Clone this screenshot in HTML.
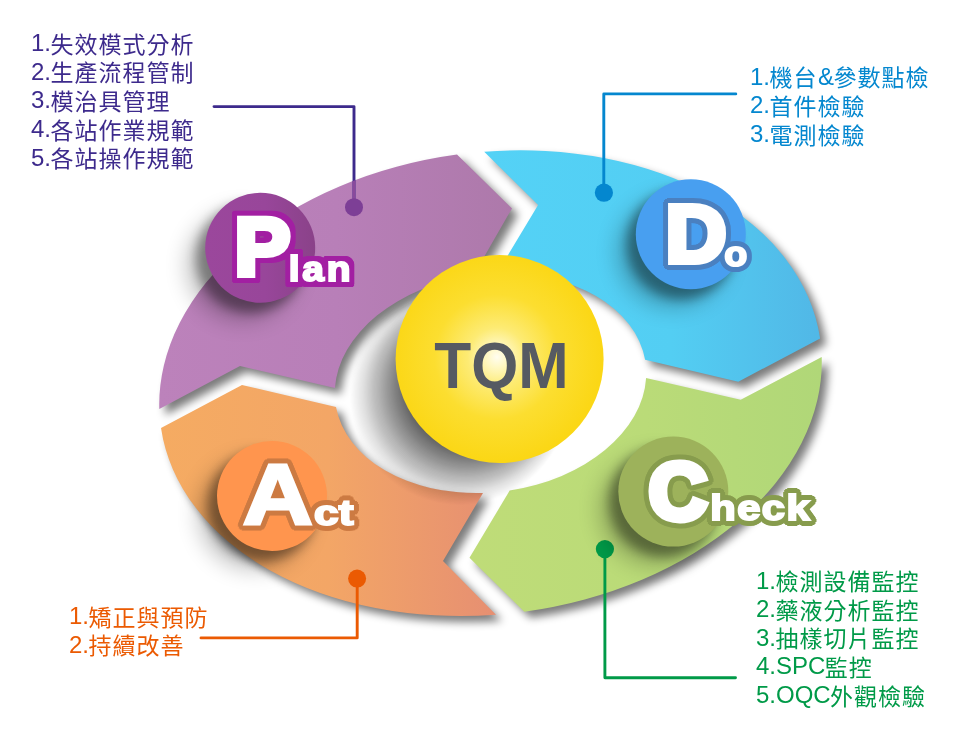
<!DOCTYPE html>
<html lang="zh-Hant">
<head>
<meta charset="utf-8">
<title>TQM PDCA</title>
<style>
html,body{margin:0;padding:0;background:#fff;}
body{width:974px;height:739px;overflow:hidden;position:relative;font-family:"Liberation Sans","Noto Sans CJK TC",sans-serif;}
svg{position:absolute;left:0;top:0;display:block;}
.list{opacity:0.999;position:absolute;margin:0;padding:0;list-style:none;font-size:24px;line-height:28.65px;white-space:nowrap;font-weight:400;}
.list span{font-size:23px;letter-spacing:1px;position:relative;top:1.7px;left:-0.6px;}
.list li{margin:0;padding:0;height:28.65px;}
#l-plan{left:31px;top:29px;color:#3d2a8c;}
#l-do{left:750px;top:62.8px;color:#0487cf;}
#l-check{left:756px;top:566.5px;color:#009a48;}
#l-act{left:69px;top:601.9px;color:#eb5a02;}
</style>
</head>
<body>
<svg width="974" height="739" viewBox="0 0 974 739">
<defs>
  <filter id="sh" x="-5%" y="-5%" width="112%" height="112%" color-interpolation-filters="sRGB">
    <feGaussianBlur in="SourceAlpha" stdDeviation="4"/>
    <feOffset dx="6" dy="5.7"/>
    <feComponentTransfer><feFuncA type="linear" slope="0.52"/></feComponentTransfer>
  </filter>
  <filter id="shb" x="-80%" y="-80%" width="260%" height="260%" color-interpolation-filters="sRGB">
    <feGaussianBlur in="SourceAlpha" stdDeviation="5.5" result="b1"/>
    <feOffset in="b1" dx="-9.5" dy="9.5" result="o1"/>
    <feComponentTransfer in="o1" result="s1"><feFuncA type="linear" slope="0.37"/></feComponentTransfer>
    <feGaussianBlur in="SourceAlpha" stdDeviation="11" result="b2"/>
    <feOffset in="b2" dx="-18" dy="18" result="o2"/>
    <feComponentTransfer in="o2" result="s2"><feFuncA type="linear" slope="0.25"/></feComponentTransfer>
    <feMerge><feMergeNode in="s2"/><feMergeNode in="s1"/></feMerge>
  </filter>
  <filter id="ol-plan" x="-15%" y="-25%" width="130%" height="150%" color-interpolation-filters="sRGB">
    <feMorphology in="SourceAlpha" operator="dilate" radius="5 5" result="bx"/>
    <feMorphology in="SourceAlpha" operator="dilate" radius="6 2" result="m1"/>
    <feMorphology in="SourceAlpha" operator="dilate" radius="2 6" result="m2"/>
    <feMorphology in="SourceAlpha" operator="dilate" radius="5 4" result="m3"/>
    <feMorphology in="SourceAlpha" operator="dilate" radius="4 5" result="m4"/>
    <feMerge result="rd"><feMergeNode in="m1"/><feMergeNode in="m2"/><feMergeNode in="m3"/><feMergeNode in="m4"/></feMerge>
    <feComposite in="bx" in2="rd" operator="in" result="u"/>
    <feFlood flood-color="#a21fa2" result="c"/>
    <feComposite in="c" in2="u" operator="in" result="o"/>
    <feMerge><feMergeNode in="o"/><feMergeNode in="SourceGraphic"/></feMerge>
  </filter>
  <filter id="ol-do" x="-15%" y="-25%" width="130%" height="150%" color-interpolation-filters="sRGB">
    <feMorphology in="SourceAlpha" operator="dilate" radius="5 1" result="m1"/>
    <feMorphology in="SourceAlpha" operator="dilate" radius="1 5" result="m2"/>
    <feMorphology in="SourceAlpha" operator="dilate" radius="4 3" result="m3"/>
    <feMorphology in="SourceAlpha" operator="dilate" radius="3 4" result="m4"/>
    <feFlood flood-color="#4a80c0" result="c"/>
    <feMerge result="u"><feMergeNode in="m1"/><feMergeNode in="m2"/><feMergeNode in="m3"/><feMergeNode in="m4"/></feMerge>
    <feComposite in="c" in2="u" operator="in" result="o"/>
    <feMerge><feMergeNode in="o"/><feMergeNode in="SourceGraphic"/></feMerge>
  </filter>
  <filter id="ol-check" x="-15%" y="-25%" width="130%" height="150%" color-interpolation-filters="sRGB">
    <feMorphology in="SourceAlpha" operator="dilate" radius="5 1" result="m1"/>
    <feMorphology in="SourceAlpha" operator="dilate" radius="1 5" result="m2"/>
    <feMorphology in="SourceAlpha" operator="dilate" radius="4 3" result="m3"/>
    <feMorphology in="SourceAlpha" operator="dilate" radius="3 4" result="m4"/>
    <feFlood flood-color="#879c4d" result="c"/>
    <feMerge result="u"><feMergeNode in="m1"/><feMergeNode in="m2"/><feMergeNode in="m3"/><feMergeNode in="m4"/></feMerge>
    <feComposite in="c" in2="u" operator="in" result="o"/>
    <feMerge><feMergeNode in="o"/><feMergeNode in="SourceGraphic"/></feMerge>
  </filter>
  <filter id="ol-act" x="-15%" y="-25%" width="130%" height="150%" color-interpolation-filters="sRGB">
    <feMorphology in="SourceAlpha" operator="dilate" radius="5 1" result="m1"/>
    <feMorphology in="SourceAlpha" operator="dilate" radius="1 5" result="m2"/>
    <feMorphology in="SourceAlpha" operator="dilate" radius="4 3" result="m3"/>
    <feMorphology in="SourceAlpha" operator="dilate" radius="3 4" result="m4"/>
    <feFlood flood-color="#cc7a42" result="c"/>
    <feMerge result="u"><feMergeNode in="m1"/><feMergeNode in="m2"/><feMergeNode in="m3"/><feMergeNode in="m4"/></feMerge>
    <feComposite in="c" in2="u" operator="in" result="o"/>
    <feMerge><feMergeNode in="o"/><feMergeNode in="SourceGraphic"/></feMerge>
  </filter>
  <clipPath id="cp-plan"><path d="M159.3 409.0 A332.6 231 -7.1 0 1 457.0 154.6 L512.0 208.4 L473.3 275.6 A156.4 108.9 -7.1 0 0 334.9 388.0 L240.0 366.0 Z"/></clipPath>
  <linearGradient id="g-plan" gradientUnits="userSpaceOnUse" x1="158" y1="0" x2="515" y2="0">
    <stop offset="0" stop-color="#bc82bb"/><stop offset="0.5" stop-color="#b87fb8"/><stop offset="1" stop-color="#ad79aa"/>
  </linearGradient>
  <linearGradient id="g-do" gradientUnits="userSpaceOnUse" x1="485" y1="0" x2="823" y2="0">
    <stop offset="0" stop-color="#54d2f6"/><stop offset="0.55" stop-color="#53cef3"/><stop offset="1" stop-color="#51b7e6"/>
  </linearGradient>
  <linearGradient id="g-check" gradientUnits="userSpaceOnUse" x1="469" y1="0" x2="823" y2="0">
    <stop offset="0" stop-color="#bfdc78"/><stop offset="0.5" stop-color="#badb78"/><stop offset="1" stop-color="#b0d778"/>
  </linearGradient>
  <linearGradient id="g-act" gradientUnits="userSpaceOnUse" x1="160" y1="0" x2="497" y2="0">
    <stop offset="0" stop-color="#f5ab62"/><stop offset="0.5" stop-color="#f3a666"/><stop offset="1" stop-color="#e68f72"/>
  </linearGradient>
  <linearGradient id="b-plan" gradientUnits="userSpaceOnUse" x1="205" y1="0" x2="315" y2="0">
    <stop offset="0" stop-color="#9b479c"/><stop offset="0.55" stop-color="#98469a"/><stop offset="1" stop-color="#8a4289"/>
  </linearGradient>
  <radialGradient id="g-y" gradientUnits="userSpaceOnUse" cx="497" cy="357" r="104">
    <stop offset="0" stop-color="#fffdf0"/><stop offset="0.1" stop-color="#fff8c4"/><stop offset="0.28" stop-color="#fdeb74"/><stop offset="0.6" stop-color="#fcde30"/><stop offset="1" stop-color="#fbd716"/>
  </radialGradient>
</defs>
<rect width="974" height="739" fill="#fff"/>
<g filter="url(#sh)">
  <path d="M159.3 409.0 A332.6 231 -7.1 0 1 457.0 154.6 L512.0 208.4 L473.3 275.6 A156.4 108.9 -7.1 0 0 334.9 388.0 L240.0 366.0 Z"/><path d="M484.2 151.7 A332.6 231 -7.1 0 1 820.1 338.4 L738.3 381.7 L645.1 359.8 A156.4 108.9 -7.1 0 0 496.9 273.6 L538.1 204.9 Z"/><path d="M821.7 357.0 A332.6 231 -7.1 0 1 524.3 611.7 L469.5 557.8 L509.7 490.5 A156.4 108.9 -7.1 0 0 646.1 378.0 L740.7 399.7 Z"/><path d="M496.0 614.7 A332.6 231 -7.1 0 1 161.0 428.0 L242.0 385.0 L336.0 407.1 A156.4 108.9 -7.1 0 0 483.0 492.9 L443.0 561.0 Z"/>
</g>
<path d="M159.3 409.0 A332.6 231 -7.1 0 1 457.0 154.6 L512.0 208.4 L473.3 275.6 A156.4 108.9 -7.1 0 0 334.9 388.0 L240.0 366.0 Z" fill="url(#g-plan)"/>
<path d="M484.2 151.7 A332.6 231 -7.1 0 1 820.1 338.4 L738.3 381.7 L645.1 359.8 A156.4 108.9 -7.1 0 0 496.9 273.6 L538.1 204.9 Z" fill="url(#g-do)"/>
<path d="M821.7 357.0 A332.6 231 -7.1 0 1 524.3 611.7 L469.5 557.8 L509.7 490.5 A156.4 108.9 -7.1 0 0 646.1 378.0 L740.7 399.7 Z" fill="url(#g-check)"/>
<path d="M496.0 614.7 A332.6 231 -7.1 0 1 161.0 428.0 L242.0 385.0 L336.0 407.1 A156.4 108.9 -7.1 0 0 483.0 492.9 L443.0 561.0 Z" fill="url(#g-act)"/>
<g fill="#000">
<circle cx="459.64" cy="395.18" r="110.00" fill-opacity="0.0087"/>
<circle cx="459.92" cy="394.93" r="108.98" fill-opacity="0.0101"/>
<circle cx="460.19" cy="394.68" r="107.95" fill-opacity="0.0107"/>
<circle cx="460.47" cy="394.43" r="106.93" fill-opacity="0.0112"/>
<circle cx="460.74" cy="394.18" r="105.91" fill-opacity="0.0116"/>
<circle cx="461.02" cy="393.93" r="104.88" fill-opacity="0.0120"/>
<circle cx="461.29" cy="393.68" r="103.86" fill-opacity="0.0123"/>
<circle cx="461.57" cy="393.43" r="102.84" fill-opacity="0.0127"/>
<circle cx="461.84" cy="393.19" r="101.81" fill-opacity="0.0130"/>
<circle cx="462.12" cy="392.94" r="100.79" fill-opacity="0.0133"/>
<circle cx="462.39" cy="392.69" r="99.77" fill-opacity="0.0136"/>
<circle cx="462.67" cy="392.44" r="98.74" fill-opacity="0.0139"/>
<circle cx="462.94" cy="392.19" r="97.72" fill-opacity="0.0143"/>
<circle cx="463.22" cy="391.94" r="96.70" fill-opacity="0.0146"/>
<circle cx="463.49" cy="391.69" r="95.67" fill-opacity="0.0149"/>
<circle cx="463.77" cy="391.44" r="94.65" fill-opacity="0.0152"/>
<circle cx="464.05" cy="391.19" r="93.63" fill-opacity="0.0156"/>
<circle cx="464.32" cy="390.94" r="92.60" fill-opacity="0.0159"/>
<circle cx="464.60" cy="390.69" r="91.58" fill-opacity="0.0162"/>
<circle cx="464.87" cy="390.44" r="90.56" fill-opacity="0.0166"/>
<circle cx="465.15" cy="390.19" r="89.53" fill-opacity="0.0170"/>
<circle cx="465.42" cy="389.94" r="88.51" fill-opacity="0.0173"/>
<circle cx="465.70" cy="389.70" r="87.49" fill-opacity="0.0177"/>
<circle cx="465.97" cy="389.45" r="86.47" fill-opacity="0.0181"/>
<circle cx="466.25" cy="389.20" r="85.44" fill-opacity="0.0185"/>
<circle cx="466.52" cy="388.95" r="84.42" fill-opacity="0.0190"/>
<circle cx="466.80" cy="388.70" r="83.40" fill-opacity="0.0194"/>
<circle cx="467.07" cy="388.45" r="82.37" fill-opacity="0.0199"/>
<circle cx="467.35" cy="388.20" r="81.35" fill-opacity="0.0203"/>
<circle cx="467.63" cy="387.95" r="80.33" fill-opacity="0.0208"/>
<circle cx="467.90" cy="387.70" r="79.30" fill-opacity="0.0213"/>
<circle cx="468.18" cy="387.45" r="78.28" fill-opacity="0.0219"/>
<circle cx="468.45" cy="387.20" r="77.26" fill-opacity="0.0224"/>
<circle cx="468.73" cy="386.95" r="76.23" fill-opacity="0.0230"/>
<circle cx="469.00" cy="386.70" r="75.21" fill-opacity="0.0236"/>
<circle cx="469.28" cy="386.45" r="74.19" fill-opacity="0.0243"/>
<circle cx="469.55" cy="386.21" r="73.16" fill-opacity="0.0249"/>
<circle cx="469.83" cy="385.96" r="72.14" fill-opacity="0.0256"/>
<circle cx="470.10" cy="385.71" r="71.12" fill-opacity="0.0264"/>
<circle cx="470.38" cy="385.46" r="70.09" fill-opacity="0.0272"/>
<circle cx="470.65" cy="385.21" r="69.07" fill-opacity="0.0280"/>
<circle cx="470.93" cy="384.96" r="68.05" fill-opacity="0.0289"/>
<circle cx="471.20" cy="384.71" r="67.02" fill-opacity="0.0298"/>
<circle cx="471.48" cy="384.46" r="66.00" fill-opacity="0.0308"/>
</g>
<circle cx="499.6" cy="359" r="104" fill="url(#g-y)"/>
<text transform="translate(434.3 388.1) scale(1 1.075)" font-family="'Liberation Sans',sans-serif" font-weight="700" font-size="60.5" fill="#565a62">TQM</text>

<!-- connectors -->
<g fill="none" stroke-width="2.9" stroke-linecap="round" stroke-linejoin="round">
  <path d="M214 106.6 H354 V207" stroke="#3d2a8c"/>
  <path d="M354 150 V207" stroke="#8a4a9c" clip-path="url(#cp-plan)"/>
  <path d="M735.8 93.9 H603.8 V192" stroke="#0487cf"/>
  <path d="M735.5 677.7 H604.9 V549" stroke="#009a48"/>
  <path d="M201 637.9 H357.2 V579" stroke="#eb5a02"/>
</g>
<circle cx="354" cy="207.2" r="9" fill="#7d3f96"/>
<circle cx="603.9" cy="192.7" r="9.1" fill="#0487cf"/>
<circle cx="604.9" cy="549.1" r="9.1" fill="#009a48"/>
<circle cx="357.1" cy="578.6" r="9" fill="#eb5a02"/>

<!-- badges -->
<g filter="url(#shb)"><circle cx="260.2" cy="247.8" r="55"/></g>
<g filter="url(#shb)"><circle cx="690.8" cy="234.2" r="55"/></g>
<g filter="url(#shb)"><circle cx="673.3" cy="491.6" r="55"/></g>
<g filter="url(#shb)"><circle cx="272" cy="496" r="55"/></g>
<circle cx="260.2" cy="247.8" r="55" fill="url(#b-plan)"/>
<circle cx="690.8" cy="234.2" r="55" fill="#489ff0"/>
<circle cx="673.3" cy="491.6" r="55" fill="#9db25b"/>
<circle cx="272" cy="496" r="55" fill="#ff954e"/>
<g font-family="'Liberation Sans',sans-serif" font-weight="700" fill="#fff" stroke="#fff" stroke-linejoin="miter" stroke-miterlimit="4">
  <text class="wt" filter="url(#ol-plan)"><tspan x="234.55" y="275.00" font-size="82.12" stroke-width="6.00" textLength="55.95" lengthAdjust="spacingAndGlyphs">P</tspan><tspan x="288.82" y="280.90" font-size="35.00" stroke-width="2.00" letter-spacing="2.44" textLength="64.43" lengthAdjust="spacingAndGlyphs">lan</tspan></text>
  <text class="wt" filter="url(#ol-do)"><tspan x="665.44" y="262.10" font-size="81.98" stroke-width="6.00" textLength="61.02" lengthAdjust="spacingAndGlyphs">D</tspan><tspan x="724.21" y="266.30" font-size="35.00" stroke-width="2.00" textLength="22.99" lengthAdjust="spacingAndGlyphs">o</tspan></text>
  <text class="wt" filter="url(#ol-check)"><tspan x="648.72" y="518.72" font-size="79.94" stroke-width="7.00" textLength="58.35" lengthAdjust="spacingAndGlyphs">C</tspan><tspan x="710.35" y="519.90" font-size="35.00" stroke-width="2.00" letter-spacing="1.20" textLength="100.72" lengthAdjust="spacingAndGlyphs">heck</tspan></text>
  <text class="wt" filter="url(#ol-act)"><tspan x="242.68" y="524.20" font-size="85.61" stroke-width="3.00" textLength="69.97" lengthAdjust="spacingAndGlyphs">A</tspan><tspan x="314.13" y="524.70" font-size="35.00" stroke-width="2.00" textLength="39.34" lengthAdjust="spacingAndGlyphs">ct</tspan></text>
</g>
</svg>
<ul class="list" id="l-plan"><li>1.<span>失效模式分析</span></li><li>2.<span>生產流程管制</span></li><li>3.<span>模治具管理</span></li><li>4.<span>各站作業規範</span></li><li>5.<span>各站操作規範</span></li></ul>
<ul class="list" id="l-do"><li>1.<span>機台</span>&amp;<span>參數點檢</span></li><li>2.<span>首件檢驗</span></li><li>3.<span>電測檢驗</span></li></ul>
<ul class="list" id="l-check"><li>1.<span>檢測設備監控</span></li><li>2.<span>藥液分析監控</span></li><li>3.<span>抽樣切片監控</span></li><li>4.SPC<span>監控</span></li><li>5.OQC<span>外觀檢驗</span></li></ul>
<ul class="list" id="l-act"><li>1.<span>矯正與預防</span></li><li>2.<span>持續改善</span></li></ul>
</body>
</html>
